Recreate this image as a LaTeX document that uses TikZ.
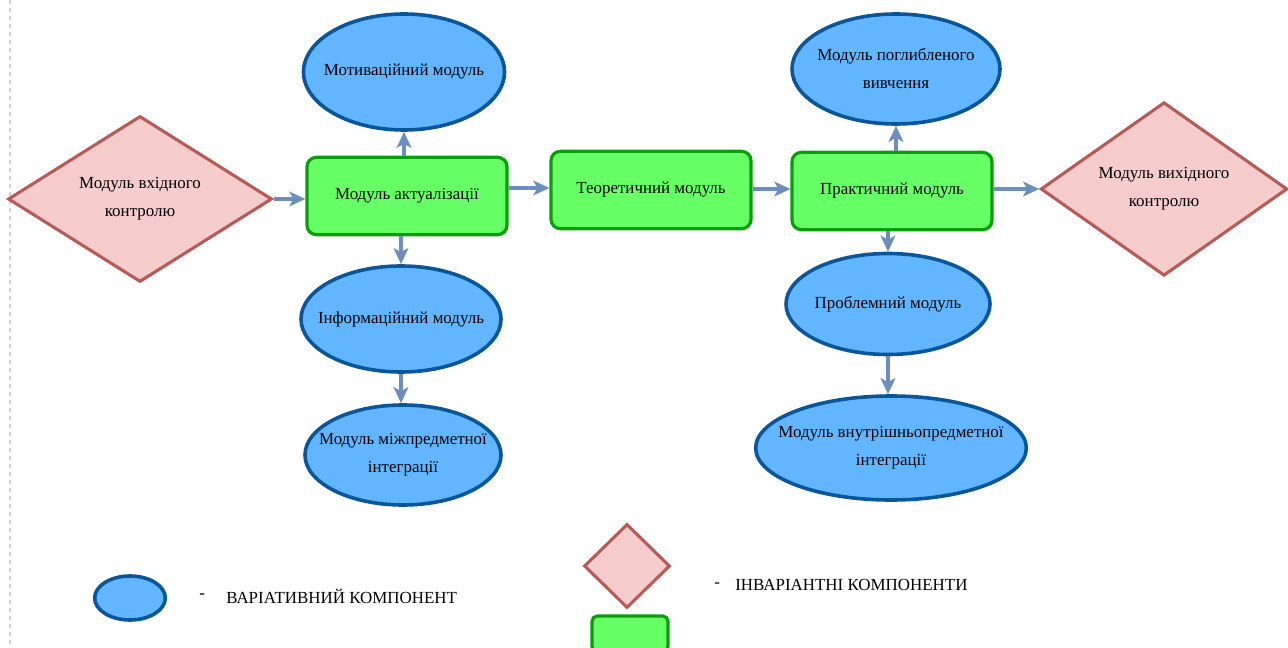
\documentclass[tikz,border=0pt]{standalone}
\usepackage{fontspec}
\setmainfont{Liberation Serif}
\usetikzlibrary{shapes.geometric,positioning,arrows.meta}
\definecolor{varfill}{HTML}{62B6FF}
\definecolor{vardraw}{HTML}{0A5699}
\definecolor{invfill}{HTML}{66FF66}
\definecolor{invdraw}{HTML}{0A9E0A}
\definecolor{ctrlfill}{HTML}{F7CCCC}
\definecolor{ctrldraw}{HTML}{B85A55}
\definecolor{arrowblue}{HTML}{6C8EBF}

\begin{document}
\begin{tikzpicture}[x=0.75pt, y=-0.75pt,
        every node/.style={font=\fontsize{12.7}{21}\selectfont, align=center, inner sep=0pt},
        legendtext/.style={anchor=west, font=\fontsize{12.7}{14}\selectfont}
    ]

    %styles
    \tikzstyle{variant}=[ellipse, draw=vardraw, fill=varfill, line width=2.7pt, inner xsep=-16pt]
    \tikzstyle{invariant}=[rectangle, rounded corners=7pt, draw=invdraw, fill=invfill, line width=2.4pt, minimum width=150pt, minimum height=58pt]
    \tikzstyle{control}=[diamond, draw=ctrldraw, fill=ctrlfill, line width=2.3pt]
    \tikzstyle{flow}=[-{Stealth[length=12pt,width=11pt,inset=3pt]}, line width=2.4pt, draw=arrowblue]

    \useasboundingbox (0,0) rectangle (1288,648);
    \draw[gray!35, dashed, line width=1pt] (10,0) -- (10,648);

    %nodes
    \node[control, minimum width=198pt, minimum height=124.5pt] (vkhid) at (140,199) {Модуль вхідного\\контролю};
    \node[invariant] (akt) at (407,196) {Модуль актуалізації};
    \node[invariant] (teor) at (651,190) {Теоретичний модуль};
    \node[invariant] (prakt) at (892,191) {Практичний модуль};
    \node[control, minimum width=185pt, minimum height=125pt] (vykhid) at (1164,189) {Модуль вихідного\\контролю};

    \node[variant, minimum width=150.75pt, minimum height=87pt] (motyv) at (404,72) {Мотиваційний модуль};
    \node[variant, minimum width=150pt, minimum height=79.5pt] (inform) at (401,319) {Інформаційний модуль};
    \node[variant, minimum width=147pt, minimum height=75pt] (mizh) at (403,455) {Модуль міжпредметної\\інтеграції};
    \node[variant, minimum width=156pt, minimum height=82.5pt] (pohl) at (896,69) {Модуль поглибленого\\вивчення};
    \node[variant, minimum width=153pt, minimum height=75.75pt] (probl) at (888,304) {Проблемний модуль};
    \node[variant, minimum width=203pt, minimum height=78pt] (vnutr) at (891,448) {Модуль внутрішньопредметної\\інтеграції};

    %legend
    \node[variant, minimum width=53pt, minimum height=33pt] (lvar) at (130,598) {};
    \node[legendtext] (lvardash) at (199,596) {-};
    \node[legendtext] (lvartext) at (226,596) {ВАРІАТИВНИЙ КОМПОНЕНТ};
    \node[control, minimum width=64.5pt, minimum height=63pt] (linv1) at (627,566) {};
    \node[invariant, minimum width=57pt, minimum height=27pt, rounded corners=4pt] (linv2) at (630,634) {};
    \node[legendtext] (linvdash) at (714,585) {-};
    \node[legendtext] (linvtext) at (735,585) {ІНВАРІАНТНІ КОМПОНЕНТИ};

    %arrows
    \draw[flow] (vkhid.east) -- (vkhid.east -| akt.west);
    \draw[flow] (akt.east |- 0,188) -- (teor.west |- 0,188);
    \draw[flow] (teor.east |- 0,189) -- (prakt.west |- 0,189);
    \draw[flow] (prakt.east |- vykhid.west) -- (vykhid.west);
    \draw[flow] (akt.north -| motyv.south) -- (motyv.south);
    \draw[flow] (akt.south -| inform.north) -- (inform.north);
    \draw[flow] (inform.south) -- (inform.south |- mizh.north);
    \draw[flow] (prakt.north -| pohl.south) -- (pohl.south);
    \draw[flow] (prakt.south -| probl.north) -- (probl.north);
    \draw[flow] (probl.south) -- (probl.south |- vnutr.north);

\end{tikzpicture}
\end{document}
